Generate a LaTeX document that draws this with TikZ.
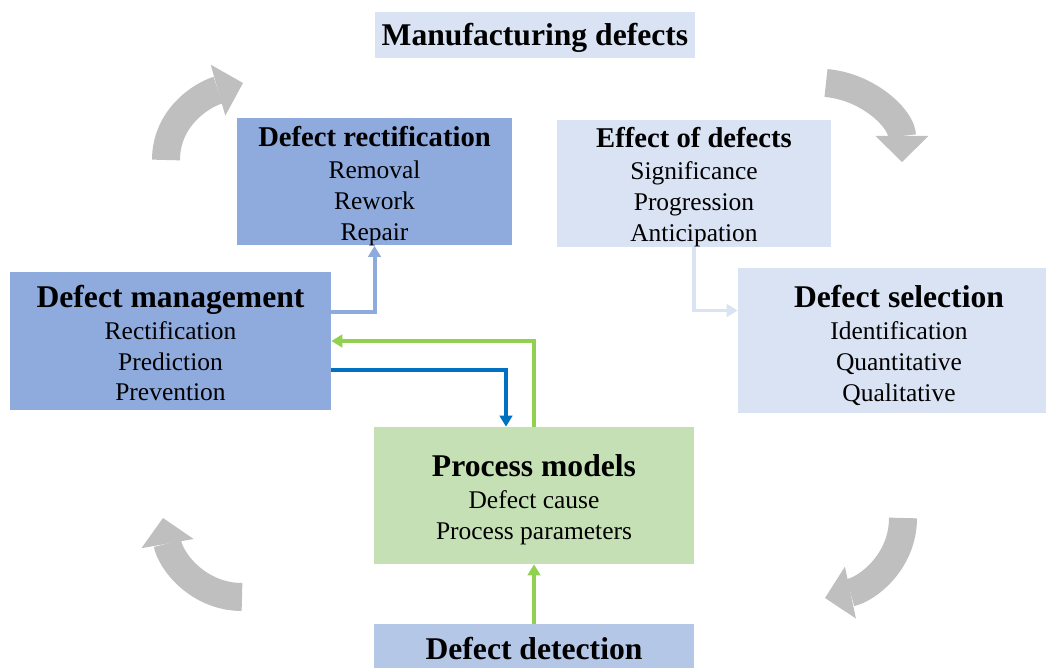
\documentclass[tikz,border=0pt]{standalone}
\usepackage{fontspec}
\setmainfont{Liberation Serif}
\usepackage{xcolor}
\usetikzlibrary{arrows.meta, positioning}
\definecolor{mgmtblue}{RGB}{143,170,220}
\definecolor{palelav}{RGB}{218,227,243}
\definecolor{procgreen}{RGB}{197,224,180}
\definecolor{detblue}{RGB}{180,199,231}
\definecolor{cyclegray}{RGB}{191,191,191}
\definecolor{linkgreen}{RGB}{146,208,80}
\definecolor{linkblue}{RGB}{0,112,192}
\newcommand{\bodysize}{\fontsize{14.5}{17.6}\selectfont}
\newcommand{\headsize}{\bfseries\fontsize{18}{21}\selectfont}
\newcommand{\subheadsize}{\bfseries\fontsize{16.3}{19.5}\selectfont}
% strut that sets the top gap above a card title
\newcommand{\titlestrut}[1]{\rule{0pt}{#1}}

\begin{document}
\begin{tikzpicture}[
    x=0.02cm, y=0.02cm,
    card/.style={fill=#1, inner sep=0pt, align=center, font=\bodysize,
                 minimum width=6.4cm, minimum height=2.74cm},
    link/.style={line width=0.08cm, -{Triangle[length=0.22cm, width=0.25cm]}},
    cyclearrow/.style={draw=cyclegray, line width=0.56cm,
                       -{Triangle[length=0.52cm, width=1.06cm, line width=0pt]}}
  ]
  \path[use as bounding box] (0,0) rectangle (1046,-668);
  \clip (0,0) rectangle (1046,-668);

  % boxes
  \node[card=palelav, minimum height=0.92cm, font=\headsize, text height=16.5pt] (manuf) at (535,-35)
        {Manufacturing defects};
  \node[card=mgmtblue, minimum width=5.5cm, minimum height=2.48cm] (rectif) at (374.5,-182)
        {{\subheadsize\titlestrut{15.9pt}Defect rectification}\\[0.5pt] Removal\\ Rework\\ Repair};
  \node[card=palelav, minimum width=5.48cm, minimum height=2.46cm] (effect) at (694,-183.5)
        {{\subheadsize\titlestrut{15.9pt}Effect of defects}\\[0.5pt] Significance\\ Progression\\ Anticipation};
  \node[card=mgmtblue, minimum width=6.42cm, minimum height=2.76cm] (mgmt) at (170.5,-341)
        {{\headsize\titlestrut{15.1pt}Defect management}\\[0.5pt] Rectification\\ Prediction\\ Prevention};
  \node[card=palelav, minimum width=6.44cm, minimum height=2.9cm] (select) at (899,-340.5)
        {{\headsize\titlestrut{18pt}Defect selection}\\[0.5pt] Identification\\ Quantitative\\ Qualitative};
  \node[card=procgreen] (proc) at (534,-495.5)
        {{\headsize\titlestrut{17.6pt}Process models}\\[0.5pt] Defect cause\\ Process parameters};
  \node[card=detblue, minimum height=0.88cm, font=\headsize, text height=15.5pt] (detect) at (534,-646)
        {Defect detection};

  % links between boxes
  \draw[link, mgmtblue] ([yshift=0.58cm]mgmt.east) -| (rectif.south);
  \draw[link, linkgreen] (proc.north) |- (mgmt.east);
  \draw[link, linkblue] ([yshift=-0.58cm]mgmt.east) -| ([xshift=-0.56cm]proc.north);
  \draw[link, palelav] (effect.south) |- ([yshift=0.6cm]select.west);
  \draw[link, linkgreen] (detect.north) -- (proc.south);

  % grey cycle arrows
  \draw[cyclearrow] (166,-160) to[out=90, in=196] (243,-83);
  \draw[cyclearrow] (826,-83) to[out=-5, in=90] (902,-162);
  \draw[cyclearrow] (903,-518) to[out=-90, in=12] (825,-598);
  \draw[cyclearrow] (242,-597) to[out=180, in=-80] (163,-518);
\end{tikzpicture}
\end{document}
